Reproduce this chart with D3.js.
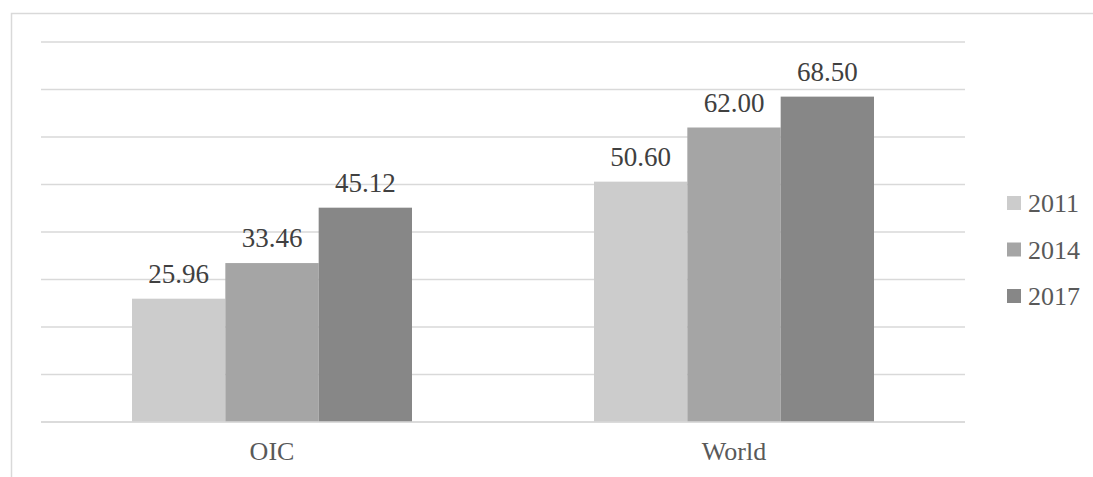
<!DOCTYPE html>
<html>
<head>
<meta charset="utf-8">
<script src="https://cdn.jsdelivr.net/npm/d3@7"></script>
<style>
  body { margin: 0; background: #fff; }
  svg { display: block; }
</style>
</head>
<body>
<div id="chart"></div>
<script>
// Data
const categories = ["OIC", "World"];
const years = ["2011", "2014", "2017"];
const values2011 = [25.96, 50.60];
const values2014 = [33.46, 62.00];
const values2017 = [45.12, 68.50];
const yTicks = [0, 10, 20, 30, 40, 50, 60, 70, 80];
const colors = ["#cccccc", "#a5a5a5", "#878787"];

const series = [values2011, values2014, values2017];

const W = 1093, H = 477;
const plot = { left: 41, right: 965, top: 42, bottom: 422 };
const serif = "'Liberation Serif', 'Times New Roman', serif";

const svg = d3.select("#chart").append("svg")
    .attr("width", W)
    .attr("height", H);

// Outer chart border
svg.append("rect")
    .attr("x", 11.5).attr("y", 13.5)
    .attr("width", W + 10).attr("height", H + 10)
    .attr("fill", "none")
    .attr("stroke", "#d9d9d9")
    .attr("stroke-width", 1.5);

// Scales
const x0 = d3.scaleBand().domain(categories).range([plot.left, plot.right]);
const x1 = d3.scaleBand().domain(years).range([0, 280]).padding(0);
const y = d3.scaleLinear().domain([0, 80]).range([plot.bottom, plot.top]);

// Gridlines
svg.append("g")
  .selectAll("line")
  .data(yTicks)
  .join("line")
    .attr("x1", plot.left).attr("x2", plot.right)
    .attr("y1", d => y(d)).attr("y2", d => y(d))
    .attr("stroke", "#d9d9d9")
    .attr("stroke-width", 1.5);

// Bars
const groups = svg.append("g")
  .selectAll("g")
  .data(categories)
  .join("g")
    .attr("transform", d => `translate(${x0(d) + x0.bandwidth() / 2 - 140},0)`);

const barData = (c, ci) => years.map((yr, si) => ({ yr, v: series[si][ci], si }));

groups.selectAll("rect")
  .data(barData)
  .join("rect")
    .attr("x", d => x1(d.yr))
    .attr("y", d => y(d.v))
    .attr("width", x1.bandwidth())
    .attr("height", d => y(0) - y(d.v))
    .attr("fill", d => colors[d.si]);

groups.selectAll("text")
  .data(barData)
  .join("text")
    .attr("x", d => x1(d.yr) + x1.bandwidth() / 2)
    .attr("y", d => y(d.v) - 16)
    .attr("text-anchor", "middle")
    .attr("font-family", serif)
    .attr("font-size", 27)
    .attr("fill", "#404040")
    .text(d => d.v.toFixed(2));

// Baseline
svg.append("line")
    .attr("x1", plot.left).attr("x2", plot.right)
    .attr("y1", y(0)).attr("y2", y(0))
    .attr("stroke", "#d9d9d9")
    .attr("stroke-width", 1.5);

// Category axis
const xAxis = svg.append("g")
    .attr("transform", `translate(0,${plot.bottom})`)
    .call(d3.axisBottom(x0).tickSize(0).tickPadding(20));
xAxis.select(".domain").remove();
xAxis.selectAll("text")
    .attr("font-family", serif)
    .attr("font-size", 26)
    .attr("fill", "#595959");

// Legend
const legend = svg.append("g")
  .selectAll("g")
  .data(years)
  .join("g")
    .attr("transform", (d, i) => `translate(1007,${203 + i * 46.5})`);

legend.append("rect")
    .attr("x", 0).attr("y", -7)
    .attr("width", 14).attr("height", 14)
    .attr("fill", (d, i) => colors[i]);

legend.append("text")
    .attr("x", 21)
    .attr("y", 0)
    .attr("dy", "0.35em")
    .attr("font-family", serif)
    .attr("font-size", 26)
    .attr("fill", "#595959")
    .text(d => d);
</script>
</body>
</html>
